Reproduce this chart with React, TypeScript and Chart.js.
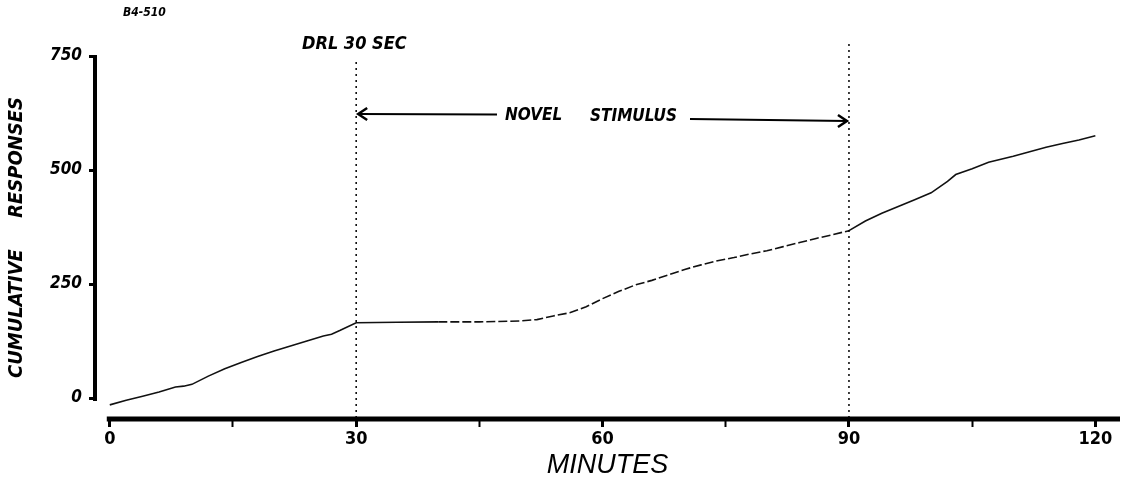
import React, { useEffect, useRef } from "react";
import { Chart, registerables } from "chart.js";

Chart.register(...registerables);

// Cumulative record
const minutes = [0, 2, 4, 6, 8, 9, 10, 12, 14, 16, 18, 20, 22, 24, 26, 27, 28, 30, 35, 40, 45, 50, 52, 54, 56, 58, 60, 62, 64, 66, 68, 70, 72, 74, 76, 78, 80, 82, 84, 86, 88, 90, 92, 94, 96, 98, 100, 102, 103, 105, 107, 110, 112, 114, 116, 118, 120];
const responses = [-15, -5, 4, 13, 24, 26, 30, 48, 64, 78, 91, 103, 114, 125, 136, 140, 148, 165, 166, 167, 167, 169, 172, 180, 187, 200, 218, 234, 248, 258, 270, 282, 292, 301, 308, 316, 323, 332, 341, 350, 358, 367, 388, 405, 420, 435, 450, 475, 490, 503, 517, 530, 540, 550, 558, 566, 575];

const xTicks = [0, 15, 30, 45, 60, 75, 90, 105, 120];
const xTickLabels = ["0", "", "30", "", "60", "", "90", "", "120"];
const yTicks = [0, 250, 500, 750];
const yTickLabels = ["0", "250", "500", "750"];

const phaseStart = 30;
const phaseEnd = 90;
const topLabel = "B4-510";
const scheduleLabel = "DRL 30 SEC";
const stimulusWords = ["NOVEL", "STIMULUS"];
const xTitle = "MINUTES";
const yTitle = "CUMULATIVE     RESPONSES";

const LEROY = '"DejaVu Sans Condensed", "DejaVu Sans", sans-serif';

const annotPlugin = {
  id: "annot",
  afterDraw(chart: any) {
    const { ctx, chartArea, scales } = chart;
    const x = scales.x;
    const y = scales.y;
    ctx.save();
    ctx.strokeStyle = "#000";
    ctx.fillStyle = "#000";
    // axis lines
    ctx.lineCap = "butt";
    ctx.lineWidth = 4;
    ctx.beginPath();
    ctx.moveTo(chartArea.left, y.getPixelForValue(750) - 1);
    ctx.lineTo(chartArea.left, y.getPixelForValue(0) + 3);
    ctx.stroke();
    ctx.lineWidth = 5;
    ctx.beginPath();
    ctx.moveTo(x.getPixelForValue(0) - 3, chartArea.bottom);
    ctx.lineTo(chartArea.right, chartArea.bottom);
    ctx.stroke();

    // dotted phase lines
    const xs = x.getPixelForValue(phaseStart);
    const xe = x.getPixelForValue(phaseEnd);
    ctx.lineWidth = 1.5;
    ctx.setLineDash([2, 4]);
    ctx.beginPath();
    ctx.moveTo(xs, 62);
    ctx.lineTo(xs, chartArea.bottom - 2);
    ctx.moveTo(xe, 44);
    ctx.lineTo(xe, chartArea.bottom - 2);
    ctx.stroke();
    ctx.setLineDash([]);

    // arrows
    const yl = 114;
    const yr = 121;
    ctx.lineWidth = 2.2;
    ctx.beginPath();
    ctx.moveTo(xs + 2, yl);
    ctx.lineTo(497, yl + 0.5);
    ctx.moveTo(690, yr - 2);
    ctx.lineTo(xe - 2, yr);
    ctx.stroke();
    ctx.lineWidth = 2.5;
    ctx.beginPath();
    ctx.moveTo(xs + 11, yl - 6);
    ctx.lineTo(xs + 2, yl);
    ctx.lineTo(xs + 11, yl + 6);
    ctx.moveTo(xe - 11, yr - 6);
    ctx.lineTo(xe - 2, yr);
    ctx.lineTo(xe - 11, yr + 6);
    ctx.stroke();

    // text
    ctx.textBaseline = "middle";
    ctx.textAlign = "left";
    ctx.font = `italic bold 17px ${LEROY}`;
    ctx.fillText(stimulusWords[0], 505, 116);
    ctx.fillText(stimulusWords[1], 590, 117);
    ctx.font = `italic bold 18px ${LEROY}`;
    ctx.fillText(scheduleLabel, 302, 44);
    ctx.font = `italic bold 12px ${LEROY}`;
    ctx.fillText(topLabel, 123, 13);
    ctx.restore();
  },
};

export default function App() {
  const ref = useRef<HTMLCanvasElement | null>(null);
  useEffect(() => {
    if (!ref.current) return;
    const data = minutes.map((m, i) => ({ x: m, y: responses[i] }));
    const chart = new Chart(ref.current, {
      type: "line",
      data: {
        datasets: [
          {
            data,
            borderColor: "#111",
            borderWidth: 1.6,
            pointRadius: 0,
            tension: 0,
            fill: false,
            segment: {
              borderDash: (c: any) =>
                c.p0.parsed.x >= 36 && c.p0.parsed.x < 90 ? [9, 3] : undefined,
            },
          },
        ],
      },
      options: {
        animation: false,
        responsive: false,
        devicePixelRatio: 1,
        layout: { padding: { left: 0, right: 4, top: 56, bottom: 0 } },
        plugins: { legend: { display: false }, tooltip: { enabled: false } },
        scales: {
          x: {
            type: "linear",
            min: -1.8,
            max: 123,
            afterBuildTicks: (s: any) => {
              s.ticks = xTicks.map((v) => ({ value: v }));
            },
            afterFit: (s: any) => {
              s.height = 68;
            },
            border: { display: false },
            grid: {
              drawOnChartArea: false,
              drawTicks: true,
              tickLength: 8,
              tickColor: "#000",
              tickWidth: (c: any) => (c.tick && c.tick.value % 30 === 0 ? 3 : 2),
            },
            ticks: {
              autoSkip: false,
              maxRotation: 0,
              padding: 2,
              color: "#000",
              font: { family: LEROY, size: 18, weight: "bold" },
              callback: (v: any) => {
                const i = xTicks.indexOf(Number(v));
                return i >= 0 ? xTickLabels[i] : "";
              },
            },
            title: {
              display: true,
              text: xTitle,
              color: "#000",
              font: { family: '"Liberation Sans", Arial, sans-serif', size: 27, style: "italic", weight: "normal" },
              padding: { top: 0, bottom: 5 },
            },
          },
          y: {
            type: "linear",
            min: -46,
            max: 750,
            afterBuildTicks: (s: any) => {
              s.ticks = yTicks.map((v) => ({ value: v }));
            },
            afterFit: (s: any) => {
              s.width = 95;
            },
            border: { display: false },
            grid: {
              drawOnChartArea: false,
              drawTicks: true,
              tickLength: 6,
              tickColor: "#000",
              tickWidth: 3,
            },
            ticks: {
              autoSkip: false,
              padding: 7,
              color: "#000",
              font: { family: LEROY, size: 17, weight: "bold", style: "italic" },
              callback: (v: any) => {
                const i = yTicks.indexOf(Number(v));
                return i >= 0 ? yTickLabels[i] : "";
              },
            },
            title: {
              display: true,
              text: yTitle,
              color: "#000",
              font: { family: LEROY, size: 20, weight: "bold", style: "italic" },
              padding: { top: 5, bottom: 0 },
            },
          },
        },
      },
      plugins: [annotPlugin],
    } as any);
    return () => chart.destroy();
  }, []);
  return (
    <div style={{ position: "absolute", left: 0, top: 0, width: 1124, height: 487, background: "#fff" }}>
      <canvas ref={ref} width={1124} height={487} style={{ display: "block" }} />
    </div>
  );
}
